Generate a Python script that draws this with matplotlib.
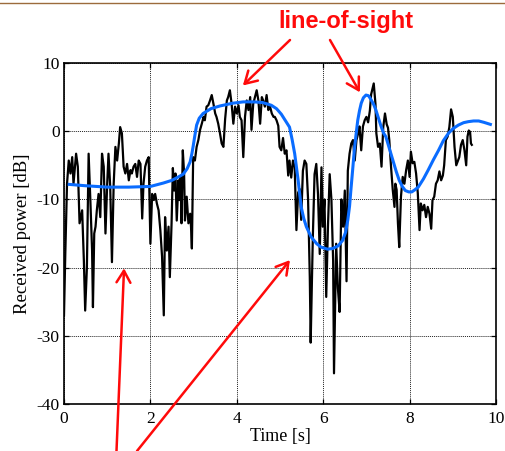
import matplotlib
matplotlib.use("Agg")
import matplotlib.pyplot as plt
from matplotlib.lines import Line2D

# ----------------------------------------------------------
# data
# ----------------------------------------------------------

# measured received power (black)
t_meas = [0.00, 0.03, 0.07, 0.11, 0.15, 0.19, 0.22, 0.28, 0.32, 0.36,
          0.42, 0.46, 0.49, 0.53, 0.57, 0.61, 0.65, 0.67, 0.70, 0.73,
          0.76, 0.80, 0.84, 0.88, 0.92, 0.96, 1.00, 1.03, 1.07, 1.11,
          1.15, 1.19, 1.23, 1.27, 1.30, 1.34, 1.38, 1.42, 1.46, 1.50,
          1.54, 1.57, 1.61, 1.65, 1.69, 1.73, 1.77, 1.81, 1.84, 1.88,
          1.92, 1.96, 2.00, 2.04, 2.08, 2.11, 2.15, 2.19, 2.23, 2.27,
          2.31, 2.34, 2.38, 2.42, 2.45, 2.49, 2.52, 2.55, 2.58, 2.61,
          2.65, 2.67, 2.70, 2.72, 2.75, 2.78, 2.80, 2.84, 2.88, 2.92,
          2.94, 2.96, 2.99, 3.03, 3.07, 3.11, 3.15, 3.19, 3.23, 3.26,
          3.30, 3.34, 3.38, 3.42, 3.46, 3.50, 3.53, 3.57, 3.61, 3.65,
          3.69, 3.73, 3.77, 3.80, 3.84, 3.88, 3.92, 3.96, 4.00, 4.04,
          4.07, 4.11, 4.15, 4.19, 4.23, 4.27, 4.31, 4.34, 4.38, 4.42,
          4.46, 4.50, 4.54, 4.58, 4.61, 4.65, 4.69, 4.73, 4.77, 4.81,
          4.85, 4.88, 4.92, 4.96, 4.99, 5.03, 5.07, 5.11, 5.15, 5.19,
          5.22, 5.26, 5.30, 5.34, 5.38, 5.42, 5.46, 5.49, 5.53, 5.57,
          5.61, 5.65, 5.69, 5.71, 5.76, 5.80, 5.84, 5.88, 5.92, 5.96,
          5.99, 6.03, 6.07, 6.11, 6.15, 6.19, 6.23, 6.25, 6.28, 6.30,
          6.34, 6.38, 6.42, 6.46, 6.50, 6.54, 6.57, 6.61, 6.65, 6.69,
          6.73, 6.77, 6.81, 6.84, 6.88, 6.92, 6.96, 7.00, 7.04, 7.08,
          7.11, 7.17, 7.21, 7.23, 7.27, 7.31, 7.35, 7.39, 7.43, 7.47,
          7.50, 7.53, 7.57, 7.61, 7.65, 7.67, 7.70, 7.73, 7.76, 7.80,
          7.84, 7.88, 7.92, 7.96, 8.00, 8.03, 8.07, 8.11, 8.15, 8.19,
          8.23, 8.26, 8.30, 8.34, 8.38, 8.42, 8.46, 8.50, 8.53, 8.57,
          8.61, 8.65, 8.69, 8.73, 8.77, 8.80, 8.84, 8.88, 8.92, 8.96,
          9.00, 9.04, 9.08, 9.11, 9.15, 9.19, 9.23, 9.27, 9.31, 9.34,
          9.37, 9.40, 9.42, 9.44]
p_meas = [-27.0, -18.0, -7.7, -4.3, -6.2, -3.8, -7.7, -3.3, -5.2, -13.5,
          -11.6, -19.0, -26.3, -20.0, -3.3, -10.1, -17.5, -25.8, -15.0, -14.0,
          -11.6, -9.2, -12.6, -3.3, -5.2, -15.0, -7.7, -3.3, -8.2, -19.2,
          -7.7, -2.3, -4.3, -1.8, 0.6, -0.3, -5.2, -6.2, -4.8, -7.2,
          -5.7, -6.2, -5.2, -4.8, -6.7, -4.3, -4.8, -12.8, -7.7, -5.2,
          -4.3, -3.8, -16.5, -9.2, -10.1, -9.2, -10.6, -11.6, -14.5, -18.4,
          -27.0, -12.6, -17.5, -14.0, -21.4, -13.5, -5.4, -8.7, -6.2, -13.1,
          -7.2, -10.1, -6.7, -13.5, -2.8, -6.2, -13.1, -9.6, -13.5, -12.1,
          -14.0, -17.2, -3.8, -4.3, -2.3, -1.3, 0.2, 1.1, 2.1, 1.6,
          3.6, 3.8, 4.5, 5.3, 4.0, 2.6, 2.1, 1.1, -0.3, -1.8,
          -2.3, 1.8, 4.5, 5.0, 6.0, 4.0, 1.1, 3.6, 2.6, 3.8,
          2.1, 1.6, -3.8, 2.1, 4.5, 3.1, 5.0, 0.2, 4.0, 5.0,
          6.0, 4.5, 1.1, 5.0, 4.5, 3.6, 5.3, 3.1, 3.6, 2.6,
          2.1, 2.1, 1.6, 0.8, -2.3, -2.8, -1.0, -3.3, -2.8, -6.5,
          -4.3, -6.8, -4.3, -5.3, -14.5, -9.0, -8.5, -13.0, -5.8, -4.3,
          -4.8, -10.0, -21.5, -31.0, -15.5, -6.3, -4.8, -9.3, -18.0, -5.3,
          -14.0, -10.0, -24.3, -14.0, -6.3, -10.0, -19.0, -35.5, -24.0, -16.5,
          -23.0, -26.5, -10.0, -14.0, -8.7, -22.0, -5.8, -3.3, -1.8, -1.3,
          -4.3, -1.3, -0.3, 0.7, -2.8, 0.7, 1.6, 2.1, 1.3, 3.0,
          5.4, 7.0, 4.0, -0.3, -2.3, -1.8, -5.2, 0.6, 2.6, 1.0,
          0.5, -1.3, -5.2, -8.6, -11.1, -7.7, -8.6, -13.5, -17.0, -9.6,
          -6.7, -7.7, -5.7, -4.3, -6.7, -3.0, -4.7, -4.5, -6.2, -9.1,
          -14.5, -10.6, -11.6, -10.8, -12.6, -11.1, -12.1, -14.3, -10.1, -9.6,
          -7.7, -7.2, -5.9, -7.2, -6.5, -5.0, -1.3, -0.8, 0.6, 3.2,
          2.1, -2.3, -5.0, -4.5, -3.8, -2.0, -1.3, -2.8, -5.0, -0.8,
          0.1, -0.1, -1.8, -2.0]

# smoothed fit (blue)
t_fit = [0.12, 0.50, 1.00, 1.50, 2.00, 2.30, 2.50, 2.65, 2.76, 2.85,
         2.92, 2.96, 2.99, 3.03, 3.07, 3.13, 3.22, 3.40, 3.61, 3.90,
         4.15, 4.40, 4.60, 4.80, 4.92, 5.03, 5.12, 5.22, 5.28, 5.34,
         5.42, 5.49, 5.55, 5.61, 5.72, 5.85, 5.95, 6.10, 6.22, 6.35,
         6.45, 6.52, 6.57, 6.61, 6.64, 6.68, 6.72, 6.76, 6.80, 6.84,
         6.88, 6.93, 6.99, 7.05, 7.11, 7.17, 7.22, 7.28, 7.34, 7.40,
         7.45, 7.53, 7.61, 7.69, 7.76, 7.83, 7.90, 7.98, 8.05, 8.12,
         8.20, 8.32, 8.43, 8.55, 8.67, 8.78, 8.90, 9.01, 9.13, 9.25,
         9.36, 9.48, 9.60, 9.72, 9.87]
p_fit = [-7.8, -8.0, -8.2, -8.2, -8.1, -7.6, -7.2, -6.7, -6.3, -5.5,
         -4.5, -3.3, -2.2, -0.6, 0.9, 1.9, 2.6, 3.3, 3.7, 4.1,
         4.3, 4.3, 4.2, 3.8, 3.3, 2.5, 1.6, 0.6, -1.2, -3.3,
         -7.2, -11.1, -12.8, -14.0, -15.5, -16.5, -17.0, -17.3, -17.2, -16.8,
         -16.0, -14.8, -13.0, -11.0, -8.7, -5.8, -2.8, -0.5, 1.6, 3.0,
         4.1, 4.9, 5.3, 5.2, 4.6, 3.9, 3.1, 1.9, 0.7, -0.3,
         -0.8, -2.5, -4.2, -5.9, -7.2, -8.1, -8.7, -8.9, -8.9, -8.6,
         -8.2, -7.0, -5.7, -4.2, -2.8, -1.4, -0.3, 0.4, 0.9, 1.25,
         1.4, 1.5, 1.5, 1.3, 1.0]

x_ticks = [0, 2, 4, 6, 8, 10]
y_ticks = [-40, -30, -20, -10, 0, 10]

# ----------------------------------------------------------
# figure
# ----------------------------------------------------------

plt.rcParams["axes.unicode_minus"] = False

W, H = 506, 451
fig = plt.figure(figsize=(W / 100, H / 100), dpi=100)
ax = fig.add_axes([64 / W, 1 - 404 / H, 432 / W, 341 / H])

ax.plot(t_meas, p_meas, color="black", lw=1.6, zorder=3)
ax.plot(t_fit, p_fit, color="#0a6cff", lw=2.2, zorder=4)

ax.set_xlim(0, 10)
ax.set_ylim(-40, 10)
ax.set_xticks(x_ticks)
ax.set_yticks(y_ticks)

serif = "Liberation Serif"
ax.set_xticklabels([str(v) for v in x_ticks], family=serif, fontsize=12.5)
ax.set_yticklabels([str(v) for v in y_ticks], family=serif, fontsize=12.5)
ax.tick_params(axis="both", direction="in", length=3.5, width=0.9,
               top=True, right=True)
ax.tick_params(axis="x", pad=5)
ax.tick_params(axis="y", pad=3)

ax.grid(True, color="#222222", linestyle=(0, (1, 1)), lw=0.7)
for s in ax.spines.values():
    s.set_linewidth(1.2)

ax.set_xlabel("Time [s]", family=serif, fontsize=13, labelpad=1)
ax.set_ylabel("Received power [dB]", family=serif, fontsize=13.5, labelpad=4)

# ----------------------------------------------------------
# slide decorations
# ----------------------------------------------------------

fig.add_artist(Line2D([0, 1], [1 - 3.3 / H, 1 - 3.3 / H],
                      transform=fig.transFigure, color="#9c6b3c", lw=1.0))

red = "#ff0a0a"
fig.text(345.5 / W, 1 - 28 / H, "line-of-sight", color=red,
         family="Liberation Sans", fontweight="bold", fontsize=17,
         ha="center", va="baseline")

arrow = dict(arrowstyle="->,head_length=0.85,head_width=0.5",
             color=red, lw=1.8, shrinkA=0, shrinkB=0)

# (tail in figure pixels, tip in data units)
arrows = [
    ((290, 40), (4.14, 6.7)),
    ((330, 40), (6.85, 5.7)),
    ((116.5, 451), (1.39, -20.1)),
    ((137, 451), (5.23, -18.9)),
]
for (px, py), tip in arrows:
    ax.annotate("", xy=tip, xycoords="data",
                xytext=(px / W, 1 - py / H), textcoords="figure fraction",
                arrowprops=arrow, annotation_clip=False)

fig.savefig("out.png", dpi=100)
